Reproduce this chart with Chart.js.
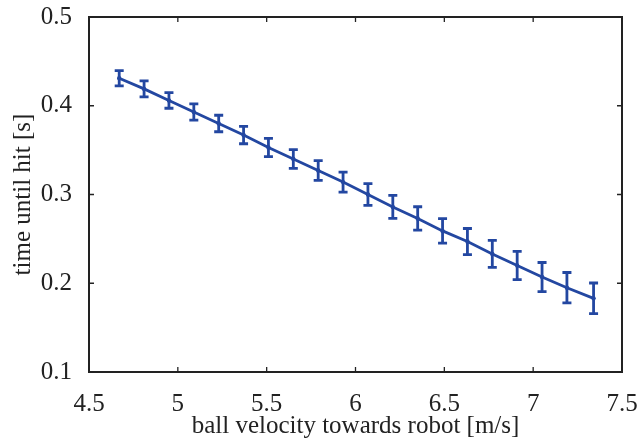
<!DOCTYPE html>
<html>
<head>
<meta charset="utf-8">
<script src="https://cdn.jsdelivr.net/npm/chart.js@4/dist/chart.umd.min.js"></script>
<style>
  html, body { margin: 0; padding: 0; background: #fff; }
  #wrap { width: 638px; height: 441px; }
</style>
</head>
<body>
<div id="wrap"><canvas id="chart" width="638" height="441"></canvas></div>
<script>
// velocidad de la bola [m/s]
const velocidades = [4.67, 4.81, 4.95, 5.09, 5.23, 5.37, 5.51, 5.65, 5.79, 5.93,
                     6.07, 6.21, 6.35, 6.49, 6.63, 6.77, 6.91, 7.05, 7.19, 7.34];
// tiempo hasta el golpe [s]
const tiempos = [0.431, 0.419, 0.406, 0.393, 0.380, 0.367, 0.353, 0.340, 0.327, 0.314,
                 0.300, 0.286, 0.273, 0.259, 0.247, 0.233, 0.220, 0.207, 0.195, 0.183];
// desviacion (media barra de error)
const errores = [0.0085, 0.0090, 0.0088, 0.0092, 0.0093, 0.0098, 0.0103, 0.0105, 0.0111, 0.0113,
                 0.0122, 0.0130, 0.0132, 0.0139, 0.0147, 0.0152, 0.0160, 0.0164, 0.0171, 0.0173];

const xTicks = [4.5, 5, 5.5, 6, 6.5, 7, 7.5];
const yTicks = [0.1, 0.2, 0.3, 0.4, 0.5];

const azul = '#2347a1';
const fuente = 'Liberation Serif';

// barras de error + caja con ticks hacia dentro (estilo matlab)
const errorBars = {
    id: 'errorBars',
    afterDatasetsDraw(chart) {
        const { ctx, scales: { x, y } } = chart;
        ctx.save();
        ctx.strokeStyle = azul;
        ctx.lineWidth = 2.8;
        ctx.lineCap = 'butt';
        velocidades.forEach((v, i) => {
            const px = x.getPixelForValue(v);
            const top = y.getPixelForValue(tiempos[i] + errores[i]);
            const bot = y.getPixelForValue(tiempos[i] - errores[i]);
            ctx.beginPath();
            ctx.moveTo(px, top); ctx.lineTo(px, bot);
            ctx.moveTo(px - 4.5, top); ctx.lineTo(px + 4.5, top);
            ctx.moveTo(px - 4.5, bot); ctx.lineTo(px + 4.5, bot);
            ctx.stroke();
        });
        ctx.restore();
    },
    afterDraw(chart) {
        const { ctx, chartArea: a, scales: { x, y } } = chart;
        ctx.save();
        ctx.strokeStyle = '#222';
        ctx.lineWidth = 2;
        ctx.strokeRect(a.left, a.top, a.right - a.left, a.bottom - a.top);
        ctx.lineWidth = 1.3;
        ctx.beginPath();
        xTicks.forEach(t => {
            const px = x.getPixelForValue(t);
            ctx.moveTo(px, a.bottom); ctx.lineTo(px, a.bottom - 5);
            ctx.moveTo(px, a.top); ctx.lineTo(px, a.top + 5);
        });
        yTicks.forEach(t => {
            const py = y.getPixelForValue(t);
            ctx.moveTo(a.left, py); ctx.lineTo(a.left + 5, py);
            ctx.moveTo(a.right, py); ctx.lineTo(a.right - 5, py);
        });
        ctx.stroke();
        ctx.restore();
    }
};

new Chart(document.getElementById('chart'), {
    type: 'line',
    data: {
        datasets: [{
            data: velocidades.map((v, i) => ({ x: v, y: tiempos[i] })),
            borderColor: azul,
            backgroundColor: azul,
            borderWidth: 2.8,
            pointRadius: 2.2,
            pointBorderWidth: 0,
            tension: 0
        }]
    },
    options: {
        responsive: false,
        animation: false,
        layout: { padding: { top: 17, right: 16, left: 0, bottom: 0 } },
        plugins: { legend: { display: false }, tooltip: { enabled: false } },
        scales: {
            x: {
                type: 'linear',
                min: 4.5, max: 7.5,
                grid: { display: false },
                border: { display: false },
                afterBuildTicks: s => { s.ticks = xTicks.map(v => ({ value: v })); },
                afterFit: s => { s.height = 69; s.paddingLeft = 0; s.paddingRight = 0; },
                ticks: {
                    color: '#222', padding: 9,
                    font: { family: fuente, size: 25 },
                    maxRotation: 0,
                    callback: v => String(v)
                },
                title: {
                    display: true, text: 'ball velocity towards robot [m/s]',
                    color: '#222', font: { family: fuente, size: 25 },
                    padding: { top: 0, bottom: 0 }
                }
            },
            y: {
                min: 0.1, max: 0.5,
                grid: { display: false },
                border: { display: false },
                afterBuildTicks: s => { s.ticks = yTicks.map(v => ({ value: v })); },
                afterFit: s => { s.width = 89; s.paddingTop = 0; s.paddingBottom = 0; },
                ticks: {
                    color: '#222', padding: 9,
                    font: { family: fuente, size: 25 },
                    callback: v => v.toFixed(1)
                },
                title: {
                    display: true, text: 'time until hit [s]',
                    color: '#222', font: { family: fuente, size: 25 },
                    padding: { top: 8 }
                }
            }
        }
    },
    plugins: [errorBars]
});
</script>
</body>
</html>
